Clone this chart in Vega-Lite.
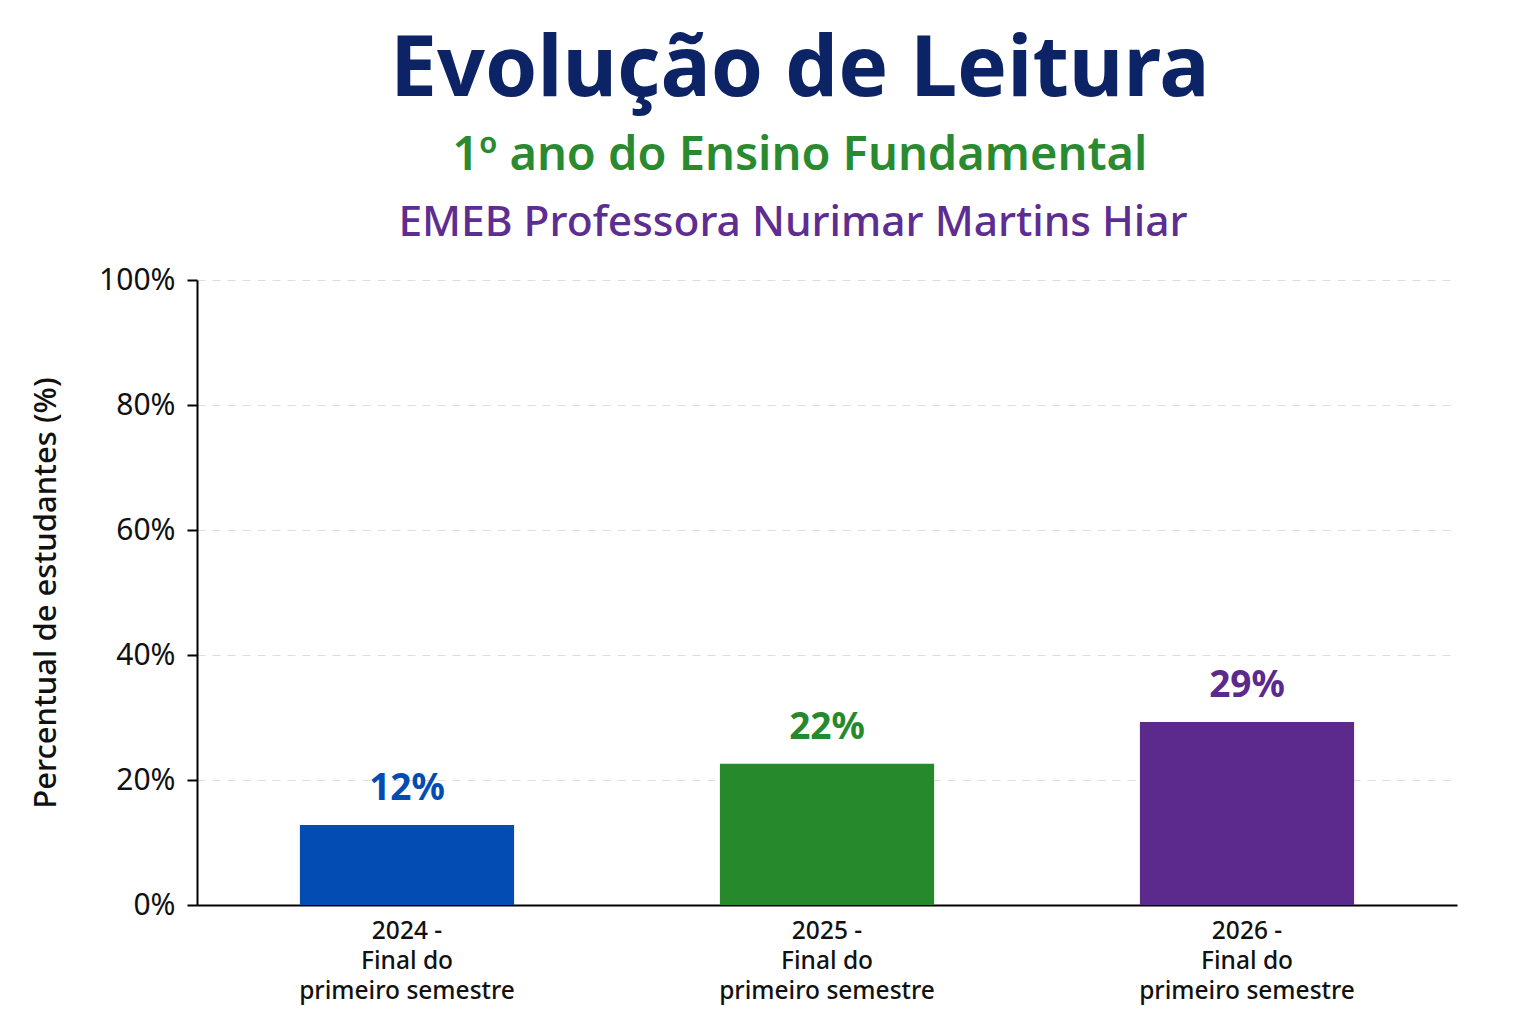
{
  "$schema": "https://vega.github.io/schema/vega-lite/v6.json",
  "background": "white",
  "padding": {"left": 30, "top": 28, "right": 79, "bottom": 10},
  "title": {
    "text": "Evolução de Leitura",
    "subtitle": "1º ano do Ensino Fundamental",
    "font": "Noto Sans",
    "fontSize": 84,
    "fontWeight": "bold",
    "color": "#0c2466",
    "subtitleFont": "Noto Sans",
    "subtitleFontSize": 47,
    "subtitleFontWeight": 600,
    "subtitleColor": "#2a8a30",
    "subtitlePadding": 19,
    "anchor": "middle",
    "dx": 56,
    "offset": 22
  },
  "vconcat": [
    {
      "width": 1260,
      "height": 625,
      "title": {
        "text": "EMEB Professora Nurimar Martins Hiar",
        "font": "Noto Sans",
        "fontSize": 42.5,
        "fontWeight": 500,
        "color": "#5e2d91",
        "anchor": "middle",
        "dx": -34,
        "offset": 21
      },
      "data": {
        "values": [
          {"periodo": "2024 - Final do primeiro semestre", "percentual": 12.8, "rotulo": "12%"},
          {"periodo": "2025 - Final do primeiro semestre", "percentual": 22.6, "rotulo": "22%"},
          {"periodo": "2026 - Final do primeiro semestre", "percentual": 29.3, "rotulo": "29%"}
        ]
      },
      "encoding": {
        "x": {
          "field": "periodo",
          "type": "nominal",
          "sort": null,
          "scale": {"paddingInner": 0.49, "paddingOuter": 0.245},
          "axis": {
            "title": null,
            "labelAngle": 0,
            "labelFont": "Noto Sans",
            "labelFontSize": 24.5,
            "labelFontWeight": 500,
            "labelColor": "#111111",
            "labelLineHeight": 30,
            "labelPadding": 14,
            "labelLimit": 0,
            "labelExpr": "[split(datum.label, ' - ')[0] + ' -', 'Final do', 'primeiro semestre']",
            "ticks": false,
            "domainColor": "#000000",
            "domainWidth": 2,
            "grid": false
          }
        },
        "y": {
          "field": "percentual",
          "type": "quantitative",
          "scale": {"domain": [0, 100]},
          "axis": {
            "title": "Percentual de estudantes (%)",
            "titleFont": "Noto Sans",
            "titleFontSize": 31,
            "titleFontWeight": 500,
            "titleColor": "#111111",
            "titlePadding": 36,
            "values": [0, 20, 40, 60, 80, 100],
            "labelExpr": "datum.value + '%'",
            "labelFont": "Noto Sans",
            "labelFontSize": 30,
            "labelColor": "#111111",
            "labelPadding": 12,
            "tickSize": 10,
            "tickWidth": 2,
            "tickColor": "#000000",
            "domainColor": "#000000",
            "domainWidth": 2,
            "grid": true,
            "gridColor": "#dddddd",
            "gridDash": [8, 7],
            "gridWidth": 1.2
          }
        },
        "color": {
          "field": "periodo",
          "type": "nominal",
          "sort": null,
          "scale": {"range": ["#034cb3", "#268a2d", "#5b2a8c"]},
          "legend": null
        }
      },
      "layer": [
        {"mark": {"type": "bar"}},
        {
          "mark": {
            "type": "text",
            "font": "Noto Sans",
            "fontSize": 37,
            "fontWeight": "bold",
            "baseline": "alphabetic",
            "dy": -25
          },
          "encoding": {"text": {"field": "rotulo"}}
        }
      ]
    }
  ],
  "config": {
    "view": {"stroke": null},
    "concat": {"spacing": 0}
  }
}
